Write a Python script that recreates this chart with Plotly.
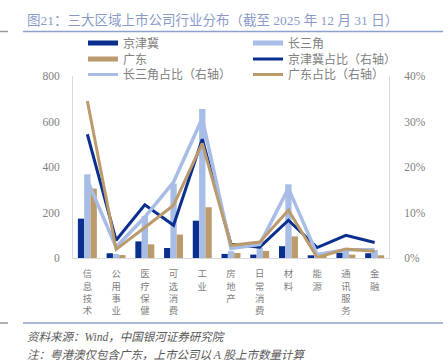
import plotly.graph_objects as go

categories = ['信息技术', '公用事业', '医疗保健', '可选消费', '工业', '房地产',
              '日常消费', '材料', '能源', '通讯服务', '金融']
jjj_count = [173, 21, 73, 44, 164, 18, 15, 52, 12, 23, 21]
csj_count = [368, 18, 185, 327, 655, 30, 45, 324, 8, 40, 35]
gd_count = [305, 13, 60, 103, 223, 22, 31, 95, 5, 15, 12]
jjj_share = [0.272, 0.039, 0.117, 0.072, 0.261, 0.030, 0.024, 0.083, 0.023, 0.050, 0.034]
csj_share = [0.171, 0.024, 0.090, 0.167, 0.307, 0.021, 0.030, 0.153, 0.008, 0.018, 0.018]
gd_share = [0.345, 0.019, 0.067, 0.116, 0.252, 0.028, 0.035, 0.105, 0.001, 0.020, 0.015]
left_ticks = [0, 200, 400, 600, 800]
right_ticks = [0, 0.1, 0.2, 0.3, 0.4]

DARK = '#0b2f8f'
LIGHT = '#a8bde6'
TAN = '#bb9a6c'
GRAY = '#808080'
FONT = 'Liberation Serif, Noto Sans CJK SC, serif'

W, H = 448, 364
xlabels = ['<br>'.join(list(c)) for c in categories]

fig = go.Figure()
for name, vals, col in [('京津冀', jjj_count, DARK), ('长三角', csj_count, LIGHT), ('广东', gd_count, TAN)]:
    fig.add_trace(go.Bar(x=xlabels, y=vals, name=name, marker=dict(color=col, line=dict(width=0)),
                         showlegend=False, yaxis='y'))

for name, vals, col, w in [('京津冀占比（右轴）', jjj_share, DARK, 3),
                           ('长三角占比（右轴）', csj_share, LIGHT, 3.5),
                           ('广东占比（右轴）', gd_share, TAN, 3)]:
    fig.add_trace(go.Scatter(x=xlabels, y=vals, name=name, mode='lines',
                             line=dict(color=col, width=w), yaxis='y2', showlegend=False))

# legend entries (one legend per cell of the 2x3 grid)
entries = [('京津冀', DARK, 5), ('长三角', LIGHT, 5),
           ('广东', TAN, 5), ('京津冀占比（右轴）', DARK, 3),
           ('长三角占比（右轴）', LIGHT, 3), ('广东占比（右轴）', TAN, 3)]
legend_names = ['legend', 'legend2', 'legend3', 'legend4', 'legend5', 'legend6']
for (name, col, w), lg in zip(entries, legend_names):
    fig.add_trace(go.Scatter(x=[None], y=[None], name=name, mode='lines',
                             line=dict(color=col, width=w), legend=lg, showlegend=True))

rows_px = [43, 43, 59, 59, 74.5, 74.5]
cols_px = [83, 248, 83, 248, 83, 248]
legend_layout = {}
for lg, lx, ly in zip(legend_names, cols_px, rows_px):
    legend_layout[lg] = dict(x=lx / W, y=1 - ly / H, xref='container', yref='container',
                             xanchor='left', yanchor='middle',
                             bgcolor='rgba(0,0,0,0)', borderwidth=0,
                             font=dict(family=FONT, size=12, color=GRAY),
                             itemwidth=30, tracegroupgap=0)

fig.update_layout(
    width=W, height=H, autosize=False,
    margin=dict(l=73, r=59, t=76, b=106, pad=0, autoexpand=False),
    paper_bgcolor='white', plot_bgcolor='white',
    barmode='group', bargap=0.34, bargroupgap=0,
    font=dict(family=FONT, size=11, color=GRAY),
    xaxis=dict(showline=True, linecolor='#d9d9d9', linewidth=1, ticks='', showgrid=False,
               tickangle=0, tickfont=dict(size=9.4, color=GRAY), zeroline=False,
               automargin=False, ticklabelstandoff=7),
    yaxis=dict(range=[0, 800], tickvals=left_ticks, showline=True, linecolor='#d9d9d9',
               linewidth=1, showgrid=False, zeroline=False, ticks='', ticklabelstandoff=10,
               tickfont=dict(size=11.5, color=GRAY), automargin=False),
    yaxis2=dict(range=[0, 0.4], tickvals=right_ticks, tickformat='.0%', overlaying='y',
                side='right', showline=True, linecolor='#d9d9d9', linewidth=1,
                showgrid=False, zeroline=False, ticks='', ticklabelstandoff=12,
                tickfont=dict(size=11.5, color=GRAY), automargin=False),
    showlegend=True,
    **legend_layout,
)

fig.add_annotation(text='图21：三大区域上市公司行业分布（截至 2025 年 12 月 31 日）',
                   xref='paper', yref='paper', x=(25 - 73) / 316, y=(258 - 20) / 182,
                   xanchor='left', yanchor='middle', showarrow=False,
                   font=dict(family=FONT, size=13.5, color='#8a9bcb'))
fig.add_annotation(text='<i>资料来源：Wind，中国银河证券研究院</i>',
                   xref='paper', yref='paper', x=(25 - 73) / 316, y=(258 - 337) / 182,
                   xanchor='left', yanchor='middle', showarrow=False,
                   font=dict(family=FONT, size=11.5, color='#595959'))
fig.add_annotation(text='<i>注：粤港澳仅包含广东，上市公司以 A 股上市数量计算</i>',
                   xref='paper', yref='paper', x=(25 - 73) / 316, y=(258 - 355) / 182,
                   xanchor='left', yanchor='middle', showarrow=False,
                   font=dict(family=FONT, size=11.5, color='#595959'))

for ypx in (31.5, 323):
    yp = (258 - ypx) / 182
    fig.add_shape(type='line', xref='paper', yref='paper', x0=(23 - 73) / 316, x1=(443 - 73) / 316,
                  y0=yp, y1=yp, line=dict(color='#8ea0cc', width=1.5))
    fig.add_shape(type='line', xref='paper', yref='paper', x0=(0 - 73) / 316, x1=(8 - 73) / 316,
                  y0=yp, y1=yp, line=dict(color='#9a9a9a', width=1.5))

fig.write_html('out.html', config={'displayModeBar': False},
               post_script="document.body.style.margin='0';document.body.style.overflow='hidden';")
